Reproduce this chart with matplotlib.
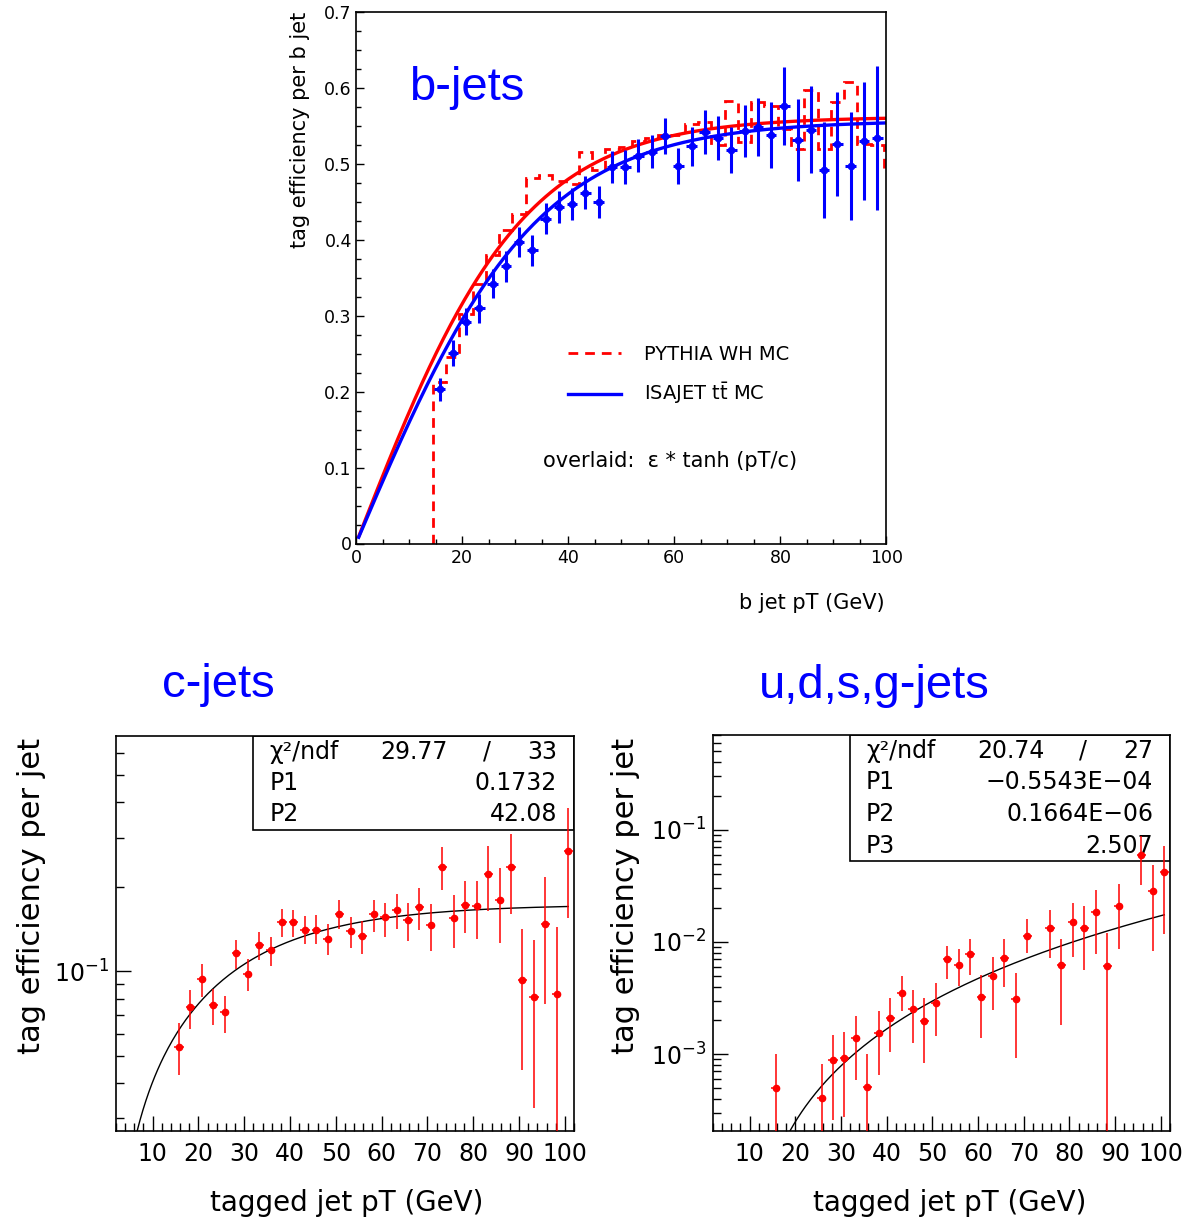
import numpy as np
import matplotlib
matplotlib.use("Agg")
import matplotlib.pyplot as plt
from matplotlib.patches import Rectangle
from matplotlib.ticker import MultipleLocator, LogLocator, NullFormatter, FuncFormatter

plt.rcParams["font.family"] = ["DejaVu Sans"]
plt.rcParams["mathtext.fontset"] = "dejavusans"

# b-jets: ISAJET ttbar points
b_pt = [15.75, 18.25, 20.75, 23.25, 25.75, 28.25, 30.75, 33.25, 35.75, 38.25,
        40.75, 43.25, 45.75, 48.25, 50.75, 53.25, 55.75, 58.25, 60.75, 63.25,
        65.75, 68.25, 70.75, 73.25, 75.75, 78.25, 80.75, 83.25, 85.75, 88.25,
        90.75, 93.25, 95.75, 98.25]
b_eff = [0.203, 0.251, 0.292, 0.310, 0.342, 0.365, 0.397, 0.386, 0.428, 0.443,
         0.447, 0.462, 0.450, 0.496, 0.496, 0.511, 0.516, 0.537, 0.497, 0.523,
         0.542, 0.534, 0.518, 0.543, 0.549, 0.538, 0.576, 0.532, 0.545, 0.492,
         0.526, 0.497, 0.530, 0.534]
b_err = [0.015, 0.017, 0.018, 0.019, 0.019, 0.020, 0.020, 0.020, 0.021, 0.021,
         0.021, 0.022, 0.021, 0.021, 0.022, 0.022, 0.022, 0.024, 0.024, 0.026,
         0.029, 0.029, 0.030, 0.034, 0.038, 0.043, 0.051, 0.054, 0.057, 0.063,
         0.068, 0.071, 0.078, 0.095]

# b-jets: PYTHIA WH histogram
b_edges = [14.5, 17.0, 19.5, 22.0, 24.5, 27.0, 29.5, 32.0, 34.5, 37.0, 39.5,
           42.0, 44.5, 47.0, 49.5, 52.0, 54.5, 57.0, 59.5, 62.0, 64.5, 67.0,
           69.5, 72.0, 74.5, 77.0, 79.5, 82.0, 84.5, 87.0, 89.5, 92.0, 94.5,
           97.0, 99.5, 102.0]
b_hist = [0.213, 0.245, 0.302, 0.342, 0.380, 0.413, 0.434, 0.481, 0.485, 0.478,
          0.474, 0.515, 0.492, 0.519, 0.522, 0.530, 0.534, 0.538, 0.538, 0.553,
          0.555, 0.525, 0.583, 0.529, 0.582, 0.576, 0.546, 0.520, 0.597, 0.520,
          0.581, 0.608, 0.526, 0.525, 0.492]

# eps * tanh(pT / c) overlays
pythia_eps, pythia_c = 0.562, 31.5
isajet_eps, isajet_c = 0.557, 34.0

# c-jets
c_pt = [15.75, 18.25, 20.75, 23.25, 25.75, 28.25, 30.75, 33.25, 35.75, 38.25,
        40.75, 43.25, 45.75, 48.25, 50.75, 53.25, 55.75, 58.25, 60.75, 63.25,
        65.75, 68.25, 70.75, 73.25, 75.75, 78.25, 80.75, 83.25, 85.75, 88.25,
        90.75, 93.25, 95.75, 98.25, 100.75]
c_eff = [0.0540, 0.0744, 0.0939, 0.0762, 0.0714, 0.116, 0.0981, 0.124, 0.119, 0.150,
         0.150, 0.141, 0.141, 0.131, 0.160, 0.139, 0.134, 0.160, 0.156, 0.165,
         0.152, 0.170, 0.146, 0.236, 0.155, 0.173, 0.171, 0.222, 0.180, 0.235,
         0.0929, 0.0813, 0.147, 0.0834, 0.268]
c_hi = [0.0656, 0.0861, 0.1065, 0.0866, 0.0820, 0.1295, 0.1106, 0.1386, 0.1330, 0.1663,
        0.1654, 0.1575, 0.1588, 0.1475, 0.1794, 0.1566, 0.1516, 0.1804, 0.1756, 0.1895,
        0.1756, 0.1984, 0.1737, 0.2772, 0.1869, 0.2095, 0.2095, 0.2787, 0.2336, 0.3090,
        0.1412, 0.1295, 0.2170, 0.1443, 0.382]
c_lo = [0.0427, 0.0625, 0.0811, 0.0644, 0.0605, 0.1019, 0.0850, 0.1094, 0.1047, 0.1330,
        0.1330, 0.1253, 0.1250, 0.1146, 0.1412, 0.1216, 0.1152, 0.1386, 0.1330, 0.1412,
        0.1288, 0.1405, 0.1184, 0.1957, 0.1216, 0.1367, 0.1301, 0.1644, 0.1260, 0.1596,
        0.0446, 0.0327, 0.0768, 0.020, 0.1545]
c_p1, c_p2 = 0.1732, 42.08
c_chi2, c_ndf = "29.77", "33"

# u,d,s,g-jets
q_pt = [15.75, 25.75, 28.25, 30.75, 33.25, 35.75, 38.25, 40.75, 43.25, 45.75,
        48.25, 50.75, 53.25, 55.75, 58.25, 60.75, 63.25, 65.75, 68.25, 70.75,
        75.75, 78.25, 80.75, 83.25, 85.75, 88.25, 90.75, 95.75, 98.25, 100.75]
q_eff = [4.99e-4, 4.06e-4, 8.85e-4, 9.2e-4, 1.377e-3, 5.06e-4, 1.54e-3, 2.09e-3, 3.53e-3, 2.51e-3,
         1.98e-3, 2.88e-3, 6.99e-3, 6.22e-3, 7.74e-3, 3.26e-3, 4.97e-3, 7.18e-3, 3.08e-3, 1.127e-2,
         1.327e-2, 6.18e-3, 1.49e-2, 1.327e-2, 1.854e-2, 6.05e-3, 2.11e-2, 5.91e-2, 2.87e-2, 4.18e-2]
q_hi = [1.0e-3, 8.15e-4, 1.486e-3, 1.56e-3, 2.19e-3, 1.0e-3, 2.43e-3, 3.13e-3, 4.97e-3, 3.73e-3,
        3.13e-3, 4.33e-3, 9.18e-3, 8.57e-3, 1.052e-2, 5.04e-3, 7.38e-3, 1.052e-2, 5.25e-3, 1.585e-2,
        1.92e-2, 1.052e-2, 2.23e-2, 2.08e-2, 2.89e-2, 1.19e-2, 3.29e-2, 8.73e-2, 4.82e-2, 7.11e-2]
q_lo = [1e-4, 1e-4, 2.59e-4, 2.73e-4, 5.87e-4, 1e-4, 6.5e-4, 1.05e-3, 2.43e-3, 1.245e-3,
        8.3e-4, 1.436e-3, 4.64e-3, 4.05e-3, 5.04e-3, 1.387e-3, 2.48e-3, 3.99e-3, 9.2e-4, 8.02e-3,
        7.23e-3, 1.824e-3, 7.38e-3, 5.58e-3, 7.74e-3, 1e-4, 8.69e-3, 3.25e-2, 8.3e-3, 1.166e-2]
q_p1, q_p2, q_p3 = -0.5543e-4, 0.1664e-6, 2.507
q_chi2, q_ndf = "20.74", "27"

BLUE = "#0000ff"
RED = "#ff0000"
TITLE_FONT = ["Liberation Sans", "DejaVu Sans"]

W, H = 1186, 1224
fig = plt.figure(figsize=(W / 100, H / 100), dpi=100)


def fig_ax(left, top, right, bottom):
    return fig.add_axes([left / W, 1 - bottom / H, (right - left) / W, (bottom - top) / H])


def paw_ticks(ax, major_len, minor_len, size):
    ax.tick_params(which="both", direction="in", top=False, right=False,
                   width=1.0, labelsize=size)
    ax.tick_params(which="major", length=major_len)
    ax.tick_params(which="minor", length=minor_len)
    for s in ax.spines.values():
        s.set_linewidth(1.2)


# ---- top panel: b-jets
ax = fig_ax(356, 12, 886.5, 543.5)
h_hist = ax.stairs(b_hist, b_edges, baseline=0, color=RED, lw=2.0,
                   linestyle=(0, (3.5, 2.5)))
x = np.linspace(0.5, 100, 300)
ax.plot(x, pythia_eps * np.tanh(x / pythia_c), color=RED, lw=2.4)
ax.errorbar(b_pt, b_eff, yerr=b_err, xerr=1.0, fmt="o", color=BLUE, ms=4.5,
            elinewidth=2.2, capsize=0)
h_blue, = ax.plot(x, isajet_eps * np.tanh(x / isajet_c), color=BLUE, lw=2.4)
ax.set_xlim(0, 100)
ax.set_ylim(0, 0.7)
ax.xaxis.set_major_locator(MultipleLocator(20))
ax.xaxis.set_minor_locator(MultipleLocator(5))
ax.yaxis.set_major_locator(MultipleLocator(0.1))
ax.yaxis.set_minor_locator(MultipleLocator(0.025))
ax.yaxis.set_major_formatter(FuncFormatter(lambda v, p: f"{v:g}"))
paw_ticks(ax, 6, 3.5, 12.5)
ax.tick_params(axis="x", pad=4)
ax.tick_params(axis="y", pad=3)
ax.legend([h_hist, h_blue], ["PYTHIA WH MC", r"ISAJET t$\bar{\mathrm{t}}$ MC"],
          loc="upper left", bbox_to_anchor=(568 / W, 1 - 345 / H),
          bbox_transform=fig.transFigure, frameon=False, fontsize=14,
          handlelength=2.7, handletextpad=1.2, labelspacing=0.85,
          borderpad=0, borderaxespad=0)

fig.text(467 / W, 1 - 100 / H, "b-jets", color=BLUE, fontsize=34,
         family=TITLE_FONT, ha="center", va="baseline")
fig.text(300 / W, 1 - 12 / H, "tag efficiency per b jet", rotation=90,
         fontsize=15, ha="center", va="top")
fig.text(885 / W, 1 - 603 / H, "b jet pT (GeV)", fontsize=15, ha="right", va="center")
fig.text(543 / W, 1 - 461 / H, "overlaid:  \u03b5 * tanh (pT/c)", fontsize=15,
         ha="left", va="center")


def stats_box(ax, y0, rows, chi2, ndf):
    ax.add_patch(Rectangle((0.299, y0), 0.701, 1 - y0, transform=ax.transAxes,
                           fill=False, edgecolor="black", lw=1.2, zorder=5))
    step = (1 - y0) / (len(rows) + 1)
    yy = 1 - step / 2
    kw = dict(transform=ax.transAxes, fontsize=17, va="center", zorder=6)
    ax.text(0.335, yy, "\u03c7\u00b2/ndf", ha="left", **kw)
    ax.text(0.725, yy, chi2, ha="right", **kw)
    ax.text(0.81, yy, "/", ha="center", **kw)
    ax.text(0.963, yy, ndf, ha="right", **kw)
    for name, val in rows:
        yy -= step
        ax.text(0.335, yy, name, ha="left", **kw)
        ax.text(0.963, yy, val, ha="right", **kw)


def bottom_panel(ax, pt, eff, lo, hi, ylim):
    eff = np.array(eff)
    yerr = [eff - np.array(lo), np.array(hi) - eff]
    ax.errorbar(pt, eff, yerr=yerr, xerr=1.0, fmt="o", color=RED, ms=4.5,
                elinewidth=1.1, capsize=0, zorder=7)
    ax.set_yscale("log")
    ax.set_xlim(2, 102)
    ax.set_ylim(*ylim)
    ax.xaxis.set_major_locator(MultipleLocator(10))
    ax.xaxis.set_minor_locator(MultipleLocator(2))
    ax.yaxis.set_major_locator(LogLocator(base=10))
    ax.yaxis.set_minor_locator(LogLocator(base=10, subs=np.arange(2, 10)))
    ax.yaxis.set_minor_formatter(NullFormatter())
    paw_ticks(ax, 11, 6, 17)
    ax.tick_params(axis="x", pad=8)
    ax.tick_params(axis="y", pad=5)


# ---- bottom left: c-jets
ax = fig_ax(116, 736, 574, 1131)
bottom_panel(ax, c_pt, c_eff, c_lo, c_hi, (0.027, 0.69))
xc = np.linspace(4, 100.75, 300)
ax.plot(xc, c_p1 * np.tanh(xc / c_p2), color="black", lw=1.0, zorder=6)
stats_box(ax, 0.762, [("P1", "0.1732"), ("P2", "42.08")], c_chi2, c_ndf)
fig.text(218 / W, 1 - 697 / H, "c-jets", color=BLUE, fontsize=34,
         family=TITLE_FONT, ha="center", va="baseline")
fig.text(32 / W, 1 - 738 / H, "tag efficiency per jet", rotation=90,
         fontsize=22, ha="center", va="top")
fig.text(347 / W, 1 - 1203 / H, "tagged jet pT (GeV)", fontsize=20,
         ha="center", va="center")

# ---- bottom right: u,d,s,g-jets
ax = fig_ax(713, 735, 1170, 1131)
bottom_panel(ax, q_pt, q_eff, q_lo, q_hi, (2.06e-4, 0.70))
xq = np.linspace(16, 100.75, 300)
ax.plot(xq, q_p1 + q_p2 * xq ** q_p3, color="black", lw=1.0, zorder=6)
stats_box(ax, 0.681, [("P1", "\u22120.5543E\u221204"), ("P2", "0.1664E\u221206"),
                      ("P3", "2.507")], q_chi2, q_ndf)
fig.text(874 / W, 1 - 698 / H, "u,d,s,g-jets", color=BLUE, fontsize=34,
         family=TITLE_FONT, ha="center", va="baseline")
fig.text(625 / W, 1 - 738 / H, "tag efficiency per jet", rotation=90,
         fontsize=22, ha="center", va="top")
fig.text(950 / W, 1 - 1203 / H, "tagged jet pT (GeV)", fontsize=20,
         ha="center", va="center")

fig.savefig("out.png", dpi=100)
